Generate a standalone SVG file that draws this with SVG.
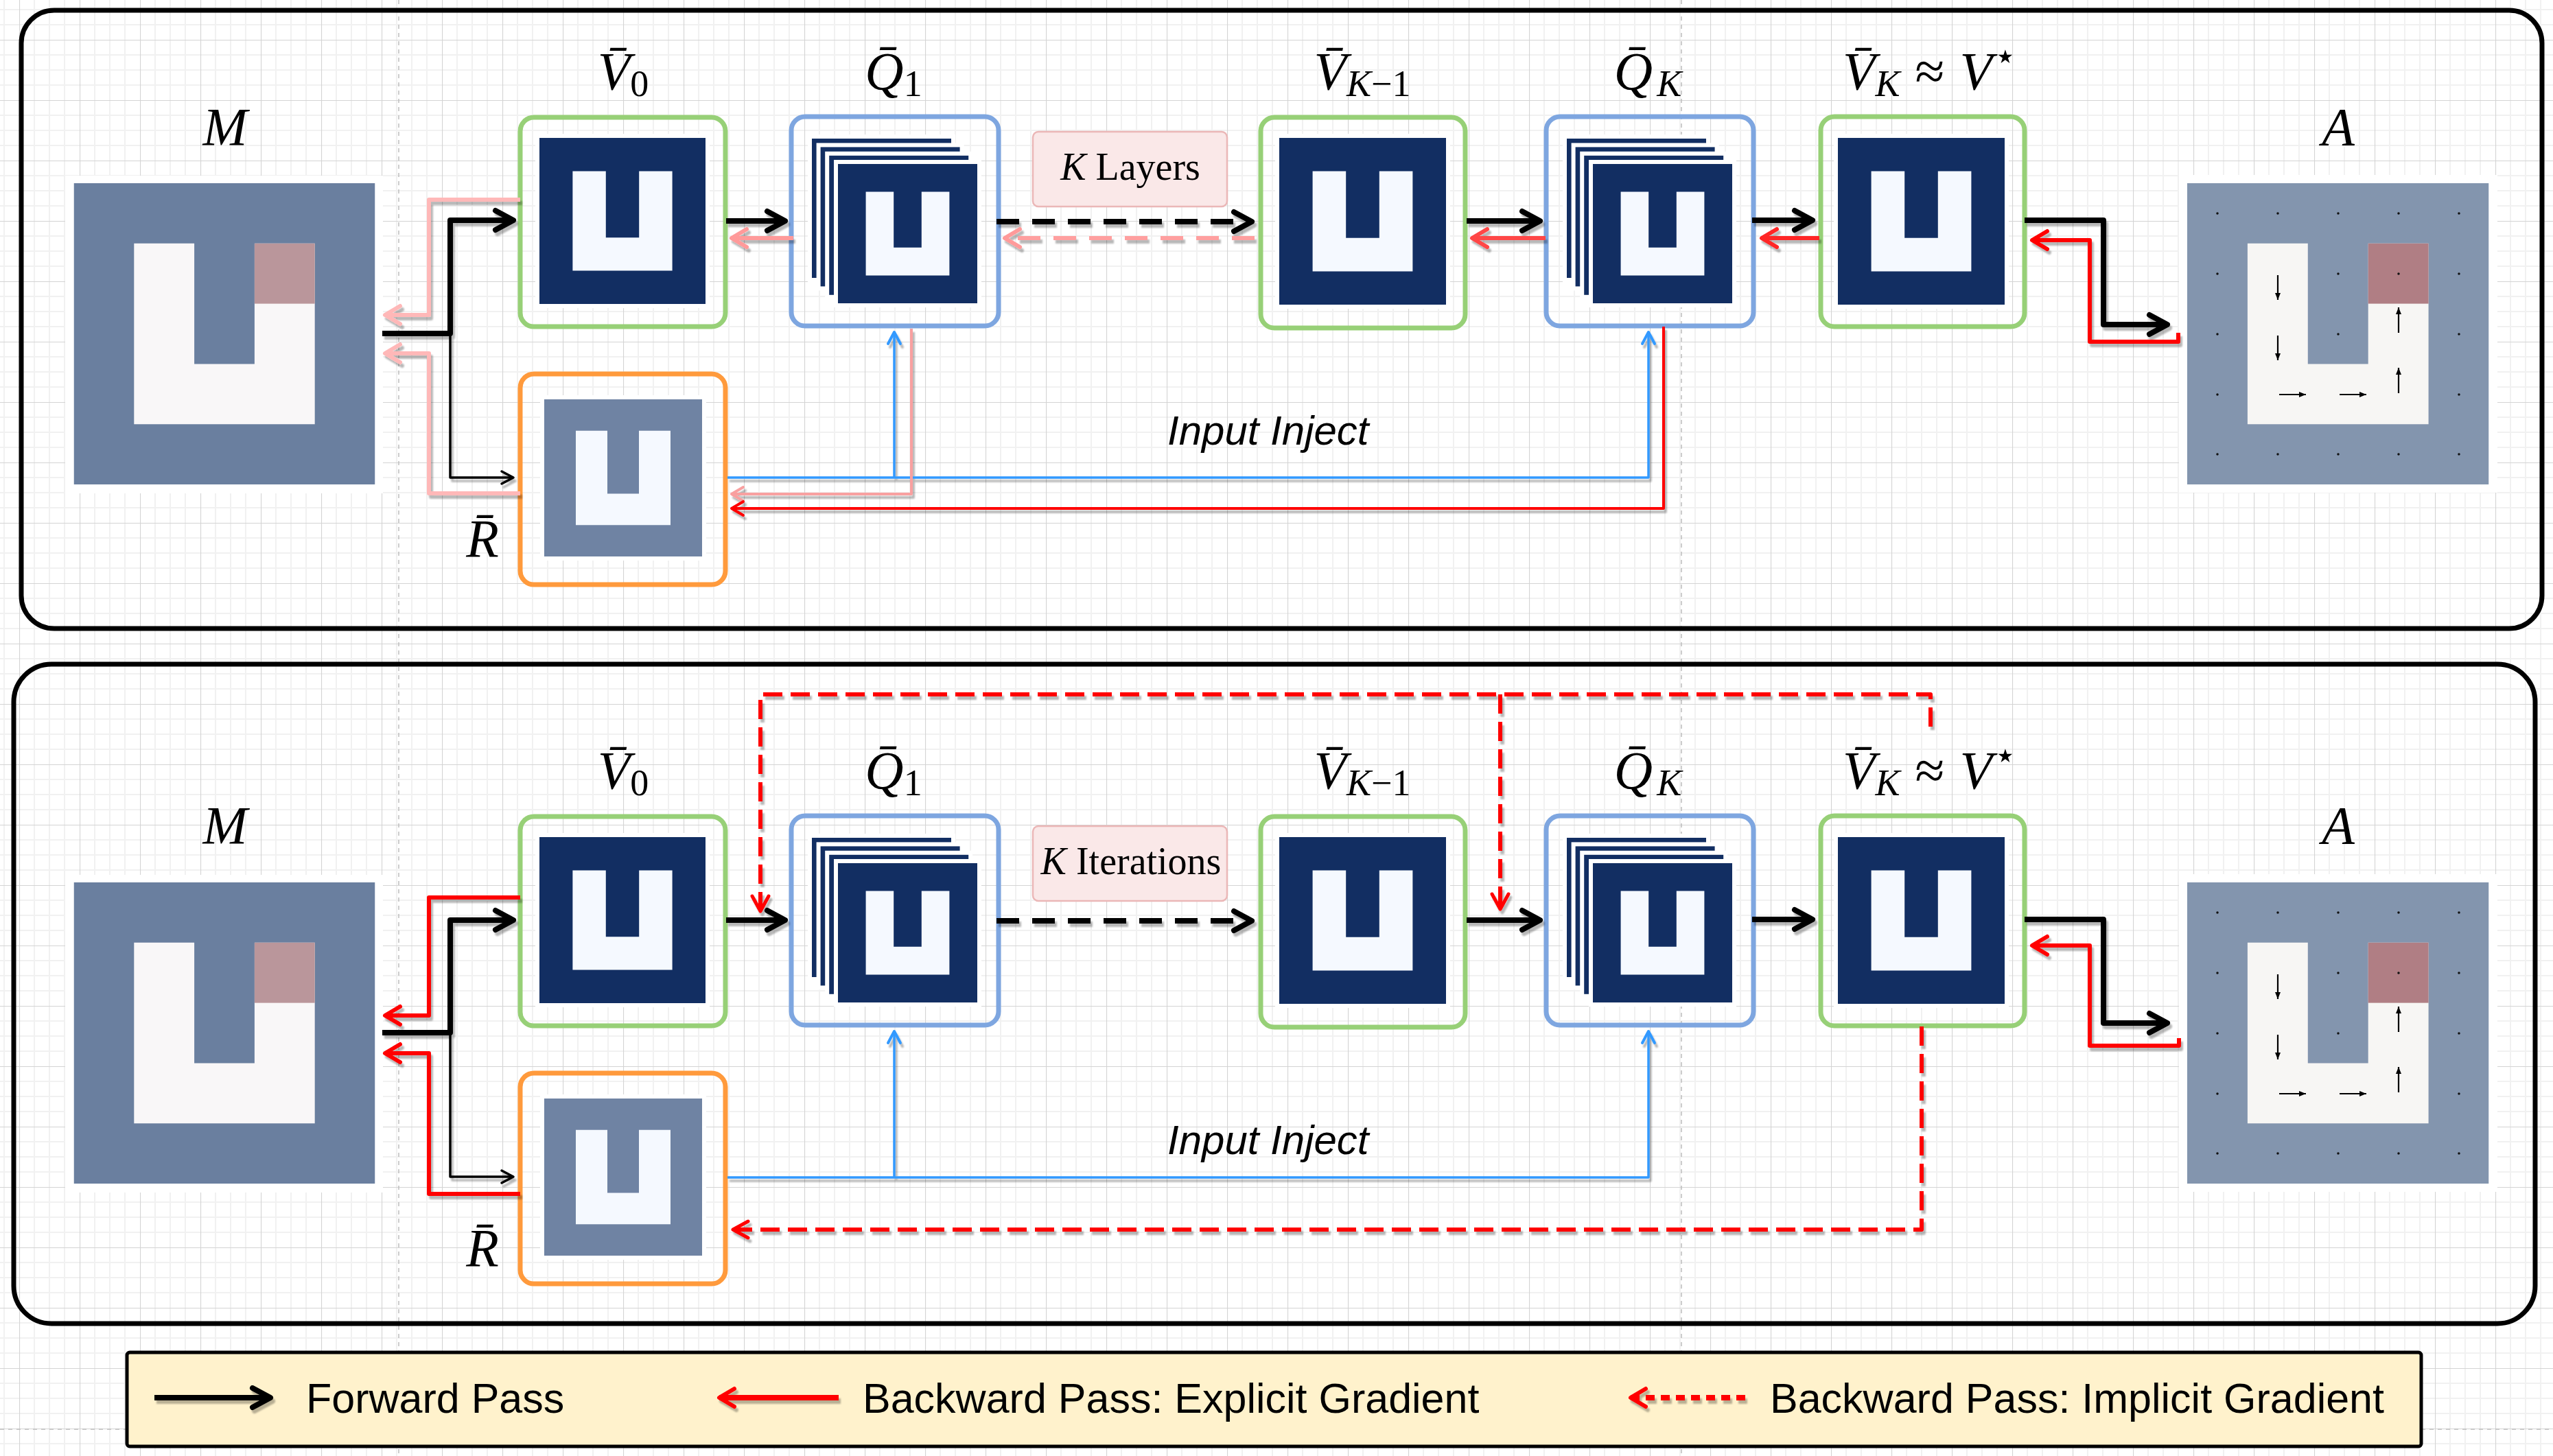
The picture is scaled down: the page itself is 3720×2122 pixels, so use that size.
<svg xmlns="http://www.w3.org/2000/svg" width="3720" height="2122" viewBox="0 0 3720 2122">
<style>
.box{fill:none;stroke-width:7;stroke-linejoin:round}
.gr{stroke:#97D077}
.bl{stroke:#7EA6E0}
.or{stroke:#FF9A3C}
.pad{fill:#FFFFFF}
.navy{fill:#122E62}
.math{font-family:"Liberation Serif","DejaVu Serif",serif;font-size:78px;fill:#000}
.it{font-style:italic}
.sub{font-size:54px}
.kl{font-size:56px}
.sans{font-family:"Liberation Sans",Arial,sans-serif;fill:#000}
.inj{font-size:60px;font-style:italic}
.leg{font-size:61px}
.c{fill:none;stroke-linejoin:round}
.fw{stroke:#000;stroke-width:8}
.fwt{stroke:#000;stroke-width:3.5}
.dash{stroke-dasharray:33 19}
.rdash{stroke-dasharray:28 12}
.panel{fill:none;stroke:#000;stroke-width:7}
</style>
<defs>
<pattern id="grid" width="88" height="88" patternUnits="userSpaceOnUse" x="28" y="58">
<path d="M22 0V88M44 0V88M66 0V88M0 22H88M0 44H88M0 66H88" stroke="#F1F1F1" stroke-width="2" fill="none"/>
<path d="M0.5 0V88M0 0.5H88" stroke="#D4D4D4" stroke-width="1.2" fill="none"/>
</pattern>
<filter id="sh" filterUnits="userSpaceOnUse" x="0" y="0" width="3720" height="2122">
<feDropShadow dx="3" dy="5" stdDeviation="1" flood-color="#000" flood-opacity="0.28"/>
</filter>
<marker id="aBk" markerUnits="userSpaceOnUse" viewBox="-40 -40 80 80" markerWidth="80" markerHeight="80" refX="0" refY="0" orient="auto" overflow="visible"><path d="M-26,-14 L0,0 L-26,14" fill="none" stroke="#000" stroke-width="8" stroke-linecap="round" stroke-linejoin="round"/></marker>
<marker id="aBkT" markerUnits="userSpaceOnUse" viewBox="-40 -40 80 80" markerWidth="80" markerHeight="80" refX="0" refY="0" orient="auto" overflow="visible"><path d="M-17,-9 L0,0 L-17,9" fill="none" stroke="#000" stroke-width="3.5" stroke-linecap="round" stroke-linejoin="round"/></marker>
<marker id="aPk" markerUnits="userSpaceOnUse" viewBox="-40 -40 80 80" markerWidth="80" markerHeight="80" refX="0" refY="0" orient="auto" overflow="visible"><path d="M-22,-13 L0,0 L-22,13" fill="none" stroke="#FFB8B8" stroke-width="6" stroke-linecap="round" stroke-linejoin="round"/></marker>
<marker id="aSa" markerUnits="userSpaceOnUse" viewBox="-40 -40 80 80" markerWidth="80" markerHeight="80" refX="0" refY="0" orient="auto" overflow="visible"><path d="M-22,-13 L0,0 L-22,13" fill="none" stroke="#FF9A9A" stroke-width="6" stroke-linecap="round" stroke-linejoin="round"/></marker>
<marker id="aR4" markerUnits="userSpaceOnUse" viewBox="-40 -40 80 80" markerWidth="80" markerHeight="80" refX="0" refY="0" orient="auto" overflow="visible"><path d="M-22,-13 L0,0 L-22,13" fill="none" stroke="#FF4646" stroke-width="6" stroke-linecap="round" stroke-linejoin="round"/></marker>
<marker id="aR3" markerUnits="userSpaceOnUse" viewBox="-40 -40 80 80" markerWidth="80" markerHeight="80" refX="0" refY="0" orient="auto" overflow="visible"><path d="M-22,-13 L0,0 L-22,13" fill="none" stroke="#FF2626" stroke-width="6" stroke-linecap="round" stroke-linejoin="round"/></marker>
<marker id="aR" markerUnits="userSpaceOnUse" viewBox="-40 -40 80 80" markerWidth="80" markerHeight="80" refX="0" refY="0" orient="auto" overflow="visible"><path d="M-22,-13 L0,0 L-22,13" fill="none" stroke="#FF0000" stroke-width="6" stroke-linecap="round" stroke-linejoin="round"/></marker>
<marker id="aPkT" markerUnits="userSpaceOnUse" viewBox="-40 -40 80 80" markerWidth="80" markerHeight="80" refX="0" refY="0" orient="auto" overflow="visible"><path d="M-17,-10 L0,0 L-17,10" fill="none" stroke="#F9A0A0" stroke-width="4" stroke-linecap="round" stroke-linejoin="round"/></marker>
<marker id="aRT" markerUnits="userSpaceOnUse" viewBox="-40 -40 80 80" markerWidth="80" markerHeight="80" refX="0" refY="0" orient="auto" overflow="visible"><path d="M-17,-10 L0,0 L-17,10" fill="none" stroke="#FF0000" stroke-width="4" stroke-linecap="round" stroke-linejoin="round"/></marker>
<marker id="aBl" markerUnits="userSpaceOnUse" viewBox="-40 -40 80 80" markerWidth="80" markerHeight="80" refX="0" refY="0" orient="auto" overflow="visible"><path d="M-17,-9 L0,0 L-17,9" fill="none" stroke="#3399FF" stroke-width="4" stroke-linecap="round" stroke-linejoin="round"/></marker>
<marker id="aRD" markerUnits="userSpaceOnUse" viewBox="-40 -40 80 80" markerWidth="80" markerHeight="80" refX="0" refY="0" orient="auto" overflow="visible"><path d="M-22,-12 L0,0 L-22,12" fill="none" stroke="#FF0000" stroke-width="5" stroke-linecap="round" stroke-linejoin="round"/></marker>
<marker id="aSm" markerUnits="userSpaceOnUse" viewBox="-20 -20 40 40" markerWidth="40" markerHeight="40" refX="0" refY="0" orient="auto" overflow="visible"><path d="M-10,-4 L0,0 L-10,4 Z" fill="#000"/></marker>
<symbol id="uNavy" viewBox="0 0 5 5" preserveAspectRatio="none"><rect width="5" height="5" fill="#122E62"/><path d="M1 1H2V3H3V1H4V4H1Z" fill="#F5F9FF"/></symbol>
<symbol id="uSlate" viewBox="0 0 5 5" preserveAspectRatio="none"><rect width="5" height="5" fill="#6F83A3"/><path d="M1 1H2V3H3V1H4V4H1Z" fill="#F5F9FF"/></symbol>
<symbol id="mapM" viewBox="0 0 5 5" preserveAspectRatio="none"><rect width="5" height="5" fill="#6A7F9F"/><path d="M1 1H2V3H3V1H4V4H1Z" fill="#F9F7F8"/><rect x="3" y="1" width="1" height="1" fill="#BA969B"/></symbol>
<symbol id="mapA" viewBox="0 0 5 5" preserveAspectRatio="none"><rect width="5" height="5" fill="#8395AE"/><path d="M1 1H2V3H3V1H4V4H1Z" fill="#F7F6F4"/><rect x="3" y="1" width="1" height="1" fill="#B07E84"/></symbol>
<g id="qstack">
<rect class="pad" x="-6" y="-6" width="215" height="215"/>
<rect class="navy" x="0" y="0" width="203" height="203"/>
<rect class="pad" x="6.6" y="6.4" width="215" height="215"/>
<rect class="navy" x="12.6" y="12.4" width="203" height="203"/>
<rect class="pad" x="19.2" y="18.8" width="215" height="215"/>
<rect class="navy" x="25.2" y="24.8" width="203" height="203"/>
<rect class="pad" x="32" y="31" width="215" height="215"/>
<use href="#uNavy" x="38" y="37" width="203" height="203"/>
</g>
<g id="aImg">
<rect class="pad" x="3175" y="255" width="464" height="463"/>
<use href="#mapA" x="3187" y="267" width="439.5" height="439"/>
<path d="M3231,311h0M3319,311h0M3407,311h0M3495,311h0M3583,311h0M3231,399h0M3407,399h0M3495,399h0M3583,399h0M3231,487h0M3407,487h0M3583,487h0M3231,575h0M3583,575h0M3231,662h0M3319,662h0M3407,662h0M3495,662h0M3583,662h0" stroke="#111" stroke-width="3.5" stroke-linecap="round" fill="none"/>
<g stroke="#000" stroke-width="2.2" fill="none">
<path d="M3319,401V437" marker-end="url(#aSm)"/>
<path d="M3319,489V525" marker-end="url(#aSm)"/>
<path d="M3321,575H3360" marker-end="url(#aSm)"/>
<path d="M3409,575H3448" marker-end="url(#aSm)"/>
<path d="M3495,485V448" marker-end="url(#aSm)"/>
<path d="M3495,573V536" marker-end="url(#aSm)"/>
</g>
</g>
</defs>

<rect width="3720" height="2122" fill="#FFFFFF"/>
<rect width="3720" height="2122" fill="url(#grid)"/>
<path d="M581 0V2122M2450 0V2122M0 2083H3720" stroke="#BDBDBD" stroke-width="1.5" stroke-dasharray="6 6" fill="none"/>

<g id="panels">
<rect class="panel" x="31" y="15" width="3673" height="901" rx="48"/>
<rect class="panel" x="20" y="968" width="3674" height="961" rx="55"/>
</g>

<!-- ===== TOP PANEL NODES ===== -->
<g id="top-M">
<rect class="pad" x="95" y="256" width="463" height="463"/>
<use href="#mapM" x="107.5" y="267" width="439" height="439"/>
<text class="math it" x="328" y="211" text-anchor="middle">M</text>
</g>
<g id="top-V0">
<rect class="box gr" x="758" y="171" width="299" height="305" rx="20"/>
<rect class="pad" x="780" y="195" width="254" height="254"/>
<use href="#uNavy" x="786" y="201" width="242" height="242"/>
<text class="math" x="908" y="130" text-anchor="middle"><tspan class="it">V&#x304;</tspan><tspan class="sub" dy="10">0</tspan></text>
</g>
<g id="top-Q1">
<rect class="box bl" x="1153" y="170" width="302" height="305" rx="20"/>
<use href="#qstack" x="1183" y="202"/>
<text class="math" x="1302" y="130" text-anchor="middle"><tspan class="it">Q&#x304;</tspan><tspan class="sub" dy="10">1</tspan></text>
</g>
<g id="top-klayers">
<rect x="1505" y="192" width="283" height="109" rx="8" fill="#FAE8E8" stroke="#EBB7B7" stroke-width="2.5"/>
<text class="math kl" x="1647" y="262" text-anchor="middle"><tspan class="it">K</tspan> Layers</text>
</g>
<g id="top-VK1">
<rect class="box gr" x="1837" y="171" width="298" height="307" rx="20"/>
<rect class="pad" x="1858" y="195" width="255" height="255"/>
<use href="#uNavy" x="1864" y="201" width="243" height="243"/>
<text class="math" x="1985" y="130" text-anchor="middle"><tspan class="it">V&#x304;</tspan><tspan class="sub it" dy="10">K</tspan><tspan class="sub">−1</tspan></text>
</g>
<g id="top-QK">
<rect class="box bl" x="2253" y="170" width="302" height="305" rx="20"/>
<use href="#qstack" x="2283" y="202"/>
<text class="math" x="2401" y="130" text-anchor="middle"><tspan class="it">Q&#x304;</tspan><tspan class="sub it" dx="6" dy="10">K</tspan></text>
</g>
<g id="top-VK">
<rect class="box gr" x="2653" y="170" width="297" height="306" rx="20"/>
<rect class="pad" x="2672" y="195" width="255" height="255"/>
<use href="#uNavy" x="2678" y="201" width="243" height="243"/>
<text class="math" x="2812" y="130" text-anchor="middle"><tspan class="it">V&#x304;</tspan><tspan class="sub it" dy="10">K</tspan><tspan dx="22" dy="-10">≈</tspan><tspan class="it" dx="22">V</tspan><tspan class="sub" dx="2" dy="-30">⋆</tspan></text>
</g>
<g id="top-A">
<use href="#aImg"/>
<text class="math it" x="3407" y="211" text-anchor="middle">A</text>
</g>
<g id="top-R">
<rect class="box or" x="758" y="545" width="299" height="307" rx="20"/>
<rect class="pad" x="787" y="576" width="242" height="241"/>
<use href="#uSlate" x="793" y="582" width="230" height="229"/>
<text class="math it" x="703" y="811" text-anchor="middle">R&#x304;</text>
</g>
<g id="top-inject-label">
<text class="sans inj" x="1701" y="648">Input Inject</text>
</g>

<!-- ===== BOTTOM PANEL NODES ===== -->
<g id="bot-M">
<rect class="pad" x="95" y="1275" width="463" height="463"/>
<use href="#mapM" x="107.5" y="1286" width="439" height="439"/>
<text class="math it" x="328" y="1229" text-anchor="middle">M</text>
</g>
<g id="bot-V0">
<rect class="box gr" x="758" y="1190" width="299" height="305" rx="20"/>
<rect class="pad" x="780" y="1214" width="254" height="254"/>
<use href="#uNavy" x="786" y="1220" width="242" height="242"/>
<text class="math" x="908" y="1149" text-anchor="middle"><tspan class="it">V&#x304;</tspan><tspan class="sub" dy="10">0</tspan></text>
</g>
<g id="bot-Q1">
<rect class="box bl" x="1153" y="1189" width="302" height="305" rx="20"/>
<use href="#qstack" x="1183" y="1221"/>
<text class="math" x="1302" y="1149" text-anchor="middle"><tspan class="it">Q&#x304;</tspan><tspan class="sub" dy="10">1</tspan></text>
</g>
<g id="bot-kiter">
<rect x="1505" y="1204" width="283" height="109" rx="8" fill="#FAE8E8" stroke="#EBB7B7" stroke-width="2.5"/>
<text class="math kl" x="1648" y="1274" text-anchor="middle"><tspan class="it">K</tspan> Iterations</text>
</g>
<g id="bot-VK1">
<rect class="box gr" x="1837" y="1190" width="298" height="307" rx="20"/>
<rect class="pad" x="1858" y="1214" width="255" height="255"/>
<use href="#uNavy" x="1864" y="1220" width="243" height="243"/>
<text class="math" x="1985" y="1149" text-anchor="middle"><tspan class="it">V&#x304;</tspan><tspan class="sub it" dy="10">K</tspan><tspan class="sub">−1</tspan></text>
</g>
<g id="bot-QK">
<rect class="box bl" x="2253" y="1189" width="302" height="305" rx="20"/>
<use href="#qstack" x="2283" y="1221"/>
<text class="math" x="2401" y="1149" text-anchor="middle"><tspan class="it">Q&#x304;</tspan><tspan class="sub it" dx="6" dy="10">K</tspan></text>
</g>
<g id="bot-VK">
<rect class="box gr" x="2653" y="1189" width="297" height="306" rx="20"/>
<rect class="pad" x="2672" y="1214" width="255" height="255"/>
<use href="#uNavy" x="2678" y="1220" width="243" height="243"/>
<text class="math" x="2812" y="1149" text-anchor="middle"><tspan class="it">V&#x304;</tspan><tspan class="sub it" dy="10">K</tspan><tspan dx="22" dy="-10">≈</tspan><tspan class="it" dx="22">V</tspan><tspan class="sub" dx="2" dy="-30">⋆</tspan></text>
</g>
<g id="bot-A">
<use href="#aImg" y="1019"/>
<text class="math it" x="3407" y="1229" text-anchor="middle">A</text>
</g>
<g id="bot-R">
<rect class="box or" x="758" y="1564" width="299" height="307" rx="20"/>
<rect class="pad" x="787" y="1595" width="242" height="241"/>
<use href="#uSlate" x="793" y="1601" width="230" height="229"/>
<text class="math it" x="703" y="1845" text-anchor="middle">R&#x304;</text>
</g>
<g id="bot-inject-label">
<text class="sans inj" x="1701" y="1682">Input Inject</text>
</g>

<!-- ===== CONNECTORS ===== -->
<g id="connectors" filter="url(#sh)">
<!-- top panel -->
<path class="c" d="M1060,696 H2402 V484" stroke="#3399FF" stroke-width="3.5" marker-end="url(#aBl)"/>
<path class="c" d="M1303,696 V484" stroke="#3399FF" stroke-width="3.5" marker-end="url(#aBl)"/>
<path class="c" d="M1328,479 V720 H1066" stroke="#F9A0A0" stroke-width="4" marker-end="url(#aPkT)"/>
<path class="c" d="M2424,476 V741 H1066" stroke="#FF0000" stroke-width="4" marker-end="url(#aRT)"/>
<path class="c" d="M758,291 H625 V459 H561" stroke="#FFB8B8" stroke-width="6" marker-end="url(#aPk)"/>
<path class="c" d="M758,719 H625 V515 H561" stroke="#FFB8B8" stroke-width="6" marker-end="url(#aPk)"/>
<path class="c fw" d="M557,486 H656 V321 H748" marker-end="url(#aBk)"/>
<path class="c fwt" d="M656,486 V696 H748" marker-end="url(#aBkT)"/>
<path class="c fw" d="M1058,322 H1144" marker-end="url(#aBk)"/>
<path class="c" d="M1156,347 H1066" stroke="#FF9A9A" stroke-width="6" marker-end="url(#aSa)"/>
<path class="c fw dash" d="M1452,323 H1824" marker-end="url(#aBk)"/>
<path class="c dash" d="M1828,347 H1464" stroke="#FF9F9F" stroke-width="6" marker-end="url(#aSa)"/>
<path class="c fw" d="M2137,322 H2244" marker-end="url(#aBk)"/>
<path class="c" d="M2252,347 H2145" stroke="#FF4646" stroke-width="6" marker-end="url(#aR4)"/>
<path class="c fw" d="M2553,321 H2641" marker-end="url(#aBk)"/>
<path class="c" d="M2651,347 H2567" stroke="#FF2626" stroke-width="6" marker-end="url(#aR3)"/>
<path class="c fw" d="M2950,321 H3065 V473 H3158" marker-end="url(#aBk)"/>
<path class="c" d="M3174,485 V498 H3045 V350 H2961" stroke="#FF0000" stroke-width="6" marker-end="url(#aR)"/>
<!-- bottom panel -->
<path class="c" d="M1060,1716 H2402 V1503" stroke="#3399FF" stroke-width="3.5" marker-end="url(#aBl)"/>
<path class="c" d="M1303,1716 V1503" stroke="#3399FF" stroke-width="3.5" marker-end="url(#aBl)"/>
<path class="c" d="M758,1308 H625 V1480 H561" stroke="#FF0000" stroke-width="6" marker-end="url(#aR)"/>
<path class="c" d="M758,1740 H625 V1535 H561" stroke="#FF0000" stroke-width="6" marker-end="url(#aR)"/>
<path class="c fw" d="M557,1505 H656 V1341 H748" marker-end="url(#aBk)"/>
<path class="c fwt" d="M656,1505 V1715 H748" marker-end="url(#aBkT)"/>
<path class="c fw" d="M1058,1341 H1144" marker-end="url(#aBk)"/>
<path class="c fw dash" d="M1452,1342 H1824" marker-end="url(#aBk)"/>
<path class="c fw" d="M2137,1341 H2244" marker-end="url(#aBk)"/>
<path class="c fw" d="M2553,1340 H2641" marker-end="url(#aBk)"/>
<path class="c fw" d="M2950,1340 H3065 V1491 H3158" marker-end="url(#aBk)"/>
<path class="c" d="M3175,1513 V1524 H3045 V1378 H2961" stroke="#FF0000" stroke-width="6" marker-end="url(#aR)"/>
<path class="c rdash" d="M2800,1496 V1792 H1068" stroke="#FF0000" stroke-width="6" marker-end="url(#aRD)"/>
<path class="c rdash" d="M2813,1059 V1012 H1108 V1328" stroke="#FF0000" stroke-width="6" marker-end="url(#aRD)"/>
<path class="c rdash" d="M2186,1012 V1325" stroke="#FF0000" stroke-width="6" marker-end="url(#aRD)"/>
</g>

<!-- ===== LEGEND ===== -->
<g id="legend">
<rect x="185" y="1971" width="3343" height="137" rx="4" fill="#FFF2CC" stroke="#000" stroke-width="5"/>
<g filter="url(#sh)">
<path class="c fw" d="M225,2037 H394" marker-end="url(#aBk)"/>
<path class="c" d="M1222,2037 H1048" stroke="#FF0000" stroke-width="8" marker-end="url(#aR)"/>
<path class="c" d="M2543,2037 H2376" stroke="#FF0000" stroke-width="8" stroke-dasharray="13 9" marker-end="url(#aR)"/>
</g>
<text class="sans leg" x="446" y="2059">Forward Pass</text>
<text class="sans leg" x="1257" y="2059">Backward Pass: Explicit Gradient</text>
<text class="sans leg" x="2579" y="2059">Backward Pass: Implicit Gradient</text>
</g>
</svg>
